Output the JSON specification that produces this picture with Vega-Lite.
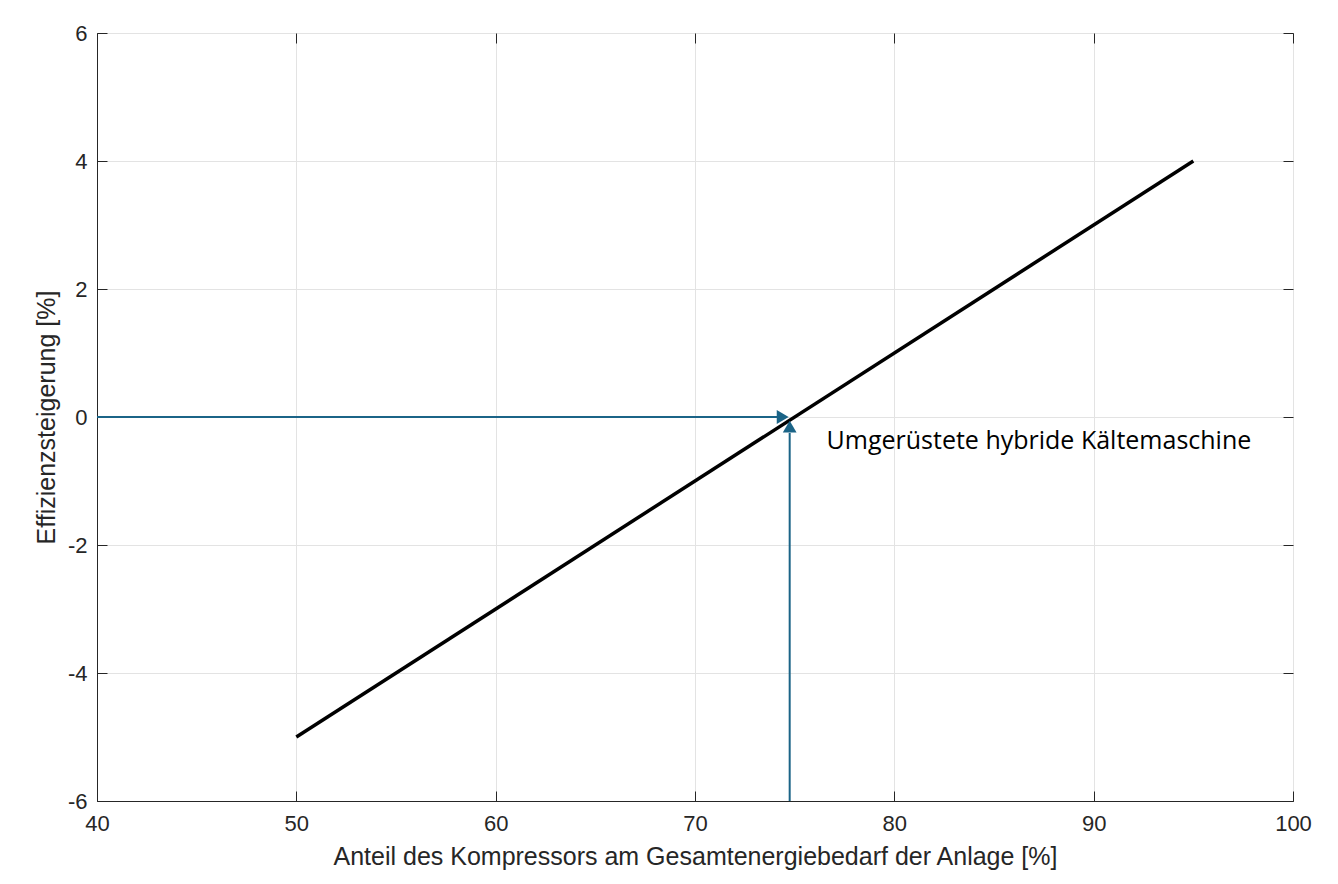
{
  "$schema": "https://vega.github.io/schema/vega-lite/v6.json",
  "autosize": "none",
  "width": 1196,
  "height": 768,
  "padding": {"left": 97, "top": 33, "right": 45, "bottom": 83},
  "background": "white",
  "config": {
    "font": "Liberation Sans",
    "view": {"stroke": "#262626", "strokeWidth": 1},
    "axis": {
      "labelFont": "Liberation Sans",
      "titleFont": "Liberation Sans",
      "labelFontSize": 22,
      "titleFontSize": 25,
      "titleFontWeight": "normal",
      "labelColor": "#262626",
      "titleColor": "#262626",
      "domainColor": "#262626",
      "tickColor": "#262626",
      "gridColor": "#e3e3e3",
      "gridOpacity": 1,
      "tickSize": -10,
      "labelFlush": false,
      "labelOverlap": false
    }
  },
  "datasets": {
    "line": [{"x": 50, "y": -5}, {"x": 95, "y": 4}],
    "hArrow": [{"x": 40, "x2": 74.5, "y": 0}],
    "vArrow": [{"x": 74.75, "y": -6, "y2": -0.25}],
    "heads": [
      {"x": 74.4, "y": 0, "shape": "triangle-right"},
      {"x": 74.75, "y": -0.15, "shape": "triangle-up"}
    ],
    "label": [{"x": 76.6, "y": -0.37, "text": "Umgerüstete hybride Kältemaschine"}]
  },
  "layer": [
    {
      "data": {"name": "line"},
      "mark": {"type": "line", "color": "black", "strokeWidth": 3.5},
      "encoding": {
        "x": {
          "field": "x", "type": "quantitative",
          "scale": {"domain": [40, 100], "nice": false, "zero": false},
          "axis": {"orient": "bottom", "values": [40, 50, 60, 70, 80, 90, 100], "grid": true,
                   "title": "Anteil des Kompressors am Gesamtenergiebedarf der Anlage [%]",
                   "labelExpr": "'' + datum.value",
                   "labelPadding": 22, "titlePadding": 10}
        },
        "y": {
          "field": "y", "type": "quantitative",
          "scale": {"domain": [-6, 6], "nice": false, "zero": false},
          "axis": {"orient": "left", "values": [-6, -4, -2, 0, 2, 4, 6], "grid": true,
                   "title": "Effizienzsteigerung [%]",
                   "labelExpr": "'' + datum.value",
                   "labelPadding": 20, "titlePadding": 8}
        }
      }
    },
    {
      "data": {"name": "line"},
      "mark": {"type": "line", "opacity": 0},
      "encoding": {
        "x": {"field": "x", "type": "quantitative",
              "axis": {"orient": "top", "values": [40, 50, 60, 70, 80, 90, 100], "labels": false, "title": null, "grid": false, "domain": false}},
        "y": {"field": "y", "type": "quantitative",
              "axis": {"orient": "right", "values": [-6, -4, -2, 0, 2, 4, 6], "labels": false, "title": null, "grid": false, "domain": false}}
      }
    },
    {
      "data": {"name": "hArrow"},
      "mark": {"type": "rule", "color": "#1b6487", "strokeWidth": 2},
      "encoding": {
        "x": {"field": "x", "type": "quantitative", "axis": null},
        "x2": {"field": "x2"},
        "y": {"field": "y", "type": "quantitative", "axis": null}
      }
    },
    {
      "data": {"name": "vArrow"},
      "mark": {"type": "rule", "color": "#1b6487", "strokeWidth": 2},
      "encoding": {
        "x": {"field": "x", "type": "quantitative", "axis": null},
        "y": {"field": "y", "type": "quantitative", "axis": null},
        "y2": {"field": "y2"}
      }
    },
    {
      "data": {"name": "heads"},
      "mark": {"type": "point", "filled": true, "color": "#1b6487", "opacity": 1, "size": 190},
      "encoding": {
        "x": {"field": "x", "type": "quantitative", "axis": null},
        "y": {"field": "y", "type": "quantitative", "axis": null},
        "shape": {"field": "shape", "type": "nominal", "scale": null, "legend": null}
      }
    },
    {
      "data": {"name": "label"},
      "mark": {"type": "text", "align": "left", "baseline": "middle", "font": "Open Sans", "fontSize": 25, "color": "black"},
      "encoding": {
        "x": {"field": "x", "type": "quantitative", "axis": null},
        "y": {"field": "y", "type": "quantitative", "axis": null},
        "text": {"field": "text"}
      }
    }
  ]
}
